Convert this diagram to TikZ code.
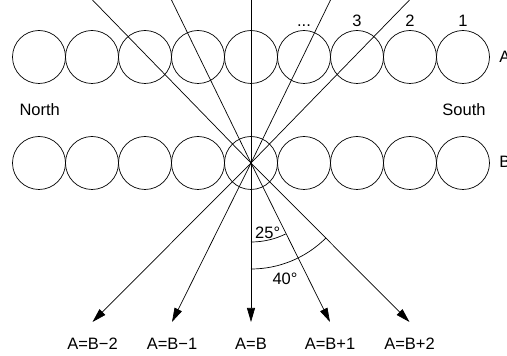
\documentclass[tikz,border=0pt]{standalone}
\usepackage{fontspec}
\setmainfont{Liberation Sans}
\usetikzlibrary{arrows.meta}

\begin{document}
\begin{tikzpicture}[x=1pt,y=1pt,line width=0.7pt,
    ball/.style={circle,draw,minimum size=53pt,inner sep=0pt},
    lbl/.style={font=\fontsize{16.5}{19}\selectfont,inner sep=0pt,anchor=base},
    >={Triangle[length=14pt,width=8pt]}]
  \useasboundingbox (0,0) rectangle (507,356);
  % two rows of balls
  \foreach \i in {1,...,9} {
    \node[ball] (a\i) at ({251+53*(\i-5)},299) {};
    \node[ball] (b\i) at ({251+53*(\i-5)},193) {};
  }
  \node[lbl] (n0) at (a6 |- 0,329.5) {...};
  \node[lbl] (n3) at (a7 |- 0,329.5) {3};
  \node[lbl] (n2) at (a8 |- 0,329.5) {2};
  \node[lbl] (n1) at (a9 |- 0,329.5) {1};
  \node[lbl,anchor=base west] (rowa) at (499,293.3) {A};
  \node[lbl,anchor=base west] (rowb) at (499,188.3) {B};
  \node[lbl] (north) at (39.7,240.3) {North};
  \node[lbl] (south) at (464,240.3) {South};
  % incoming lines
  \foreach \x [count=\k] in {92.5,171.5,251,330.5,409.5}
    \coordinate (t\k) at (\x,356);
  \foreach \k in {1,...,5}
    \draw (b5.center) -- (t\k);
  % outgoing arrows
  \foreach \x [count=\k] in {92.5,172,251,330,409.5}
    \coordinate (e\k) at (\x,34);
  \foreach \k in {1,...,5}
    \draw[->] (b5.center) -- (e\k);
  \node[lbl] (l1) at (e1 |- 0,6.7) {A=B−2};
  \node[lbl] (l2) at (e2 |- 0,6.7) {A=B−1};
  \node[lbl] (l3) at (e3 |- 0,6.7) {A=B};
  \node[lbl] (l4) at (e4 |- 0,6.7) {A=B+1};
  \node[lbl] (l5) at (e5 |- 0,6.7) {A=B+2};
  % angles
  \draw (b5.center) ++(0,-79) arc[start angle=270,end angle=296,radius=79];
  \draw (b5.center) ++(0,-106) arc[start angle=270,end angle=315,radius=106];
  \node[lbl] (ang1) at (267.7,117.7) {25°};
  \node[lbl] (ang2) at (285,71) {40°};
\end{tikzpicture}
\end{document}
